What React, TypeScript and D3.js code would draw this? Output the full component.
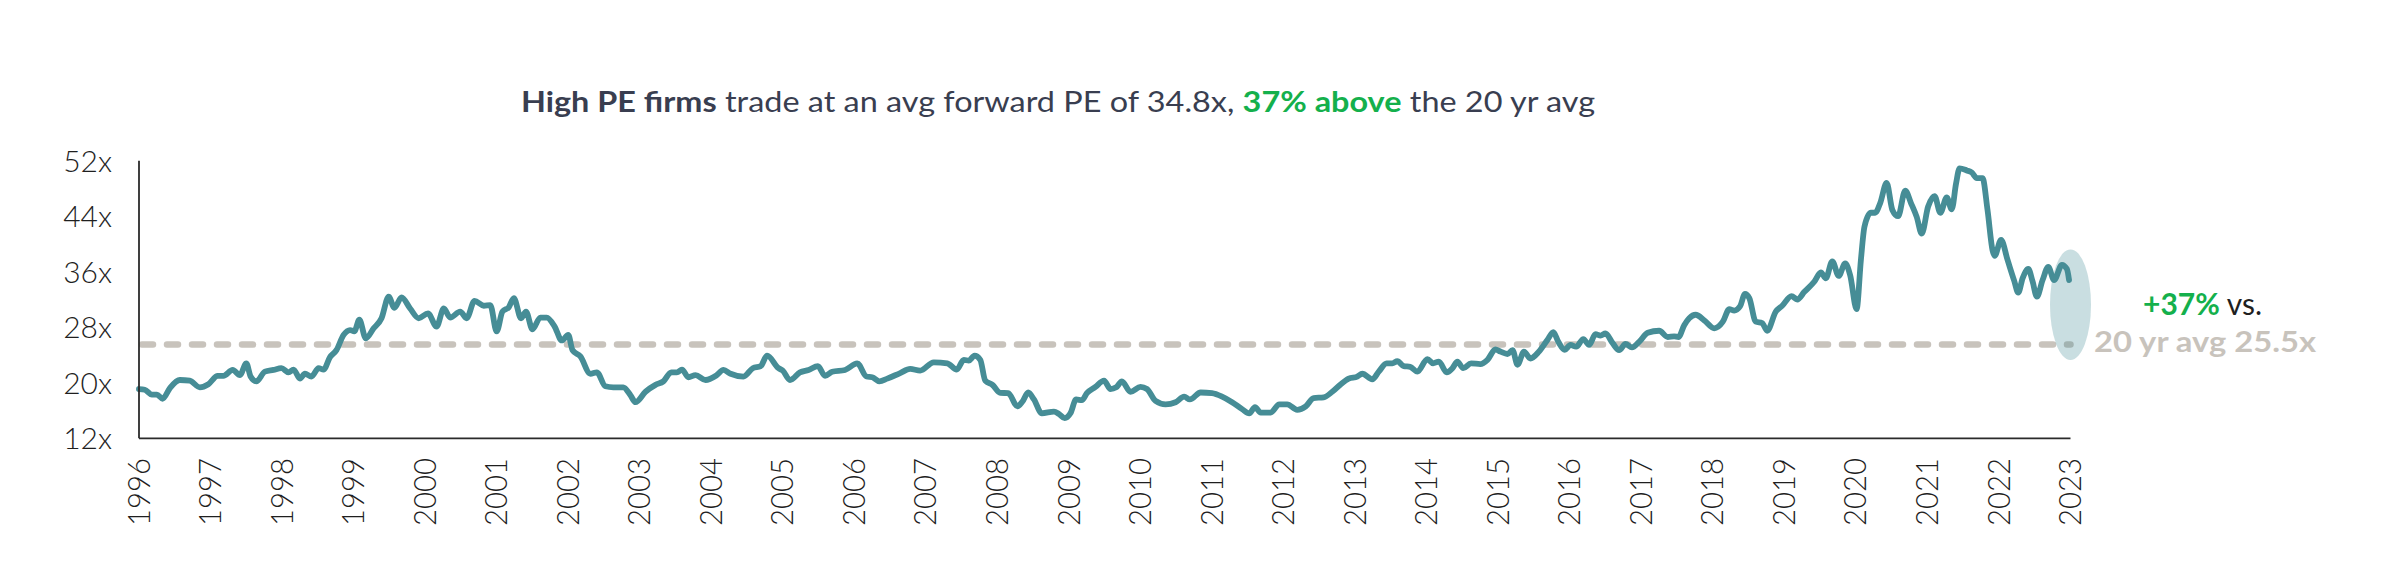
import React from "react";
import * as d3 from "d3";

// decimal-year positions and forward PE values
const years: number[] = [
  1996.0, 1996.08, 1996.18, 1996.25, 1996.33, 1996.43, 1996.57, 1996.71, 1996.85, 1996.97,
  1997.1, 1997.18, 1997.31, 1997.41, 1997.5, 1997.56, 1997.64, 1997.76, 1997.88, 1997.99,
  1998.09, 1998.16, 1998.25, 1998.32, 1998.41, 1998.51, 1998.58, 1998.67, 1998.76, 1998.86,
  1998.95, 1999.01, 1999.08, 1999.17, 1999.28, 1999.39, 1999.49, 1999.57, 1999.67, 1999.79,
  1999.91, 2000.04, 2000.16, 2000.26, 2000.35, 2000.49, 2000.58, 2000.69, 2000.82, 2000.91,
  2001.0, 2001.08, 2001.17, 2001.24, 2001.34, 2001.41, 2001.5, 2001.61, 2001.7, 2001.81,
  2001.91, 2002.0, 2002.06, 2002.17, 2002.31, 2002.4, 2002.52, 2002.63, 2002.77, 2002.87,
  2002.94, 2003.08, 2003.22, 2003.33, 2003.44, 2003.52, 2003.59, 2003.68, 2003.78, 2003.92,
  2004.07, 2004.17, 2004.27, 2004.45, 2004.58, 2004.69, 2004.78, 2004.94, 2005.0, 2005.1,
  2005.24, 2005.36, 2005.49, 2005.59, 2005.69, 2005.87, 2006.04, 2006.17, 2006.25, 2006.35,
  2006.46, 2006.64, 2006.78, 2006.92, 2007.11, 2007.3, 2007.43, 2007.53, 2007.6, 2007.68,
  2007.76, 2007.83, 2007.93, 2008.04, 2008.15, 2008.28, 2008.35, 2008.43, 2008.51, 2008.62,
  2008.79, 2008.86, 2008.94, 2009.02, 2009.1, 2009.18, 2009.25, 2009.37, 2009.49, 2009.58,
  2009.66, 2009.74, 2009.86, 2010.0, 2010.09, 2010.21, 2010.35, 2010.49, 2010.61, 2010.69,
  2010.84, 2011.0, 2011.14, 2011.28, 2011.42, 2011.52, 2011.6, 2011.68, 2011.82, 2011.94,
  2012.05, 2012.19, 2012.31, 2012.42, 2012.56, 2012.68, 2012.8, 2012.91, 2013.03, 2013.1,
  2013.24, 2013.33, 2013.44, 2013.52, 2013.59, 2013.68, 2013.77, 2013.87, 2014.01, 2014.09,
  2014.17, 2014.28, 2014.36, 2014.43, 2014.51, 2014.62, 2014.75, 2014.85, 2014.96, 2015.03,
  2015.13, 2015.2, 2015.27, 2015.36, 2015.45, 2015.57, 2015.69, 2015.77, 2015.84, 2015.93,
  2016.01, 2016.09, 2016.19, 2016.27, 2016.36, 2016.43, 2016.5, 2016.6, 2016.69, 2016.78,
  2016.87, 2016.97, 2017.09, 2017.25, 2017.37, 2017.46, 2017.52, 2017.6, 2017.67, 2017.76,
  2017.88, 2018.02, 2018.14, 2018.23, 2018.3, 2018.38, 2018.45, 2018.51, 2018.6, 2018.69,
  2018.76, 2018.88, 2018.97, 2019.1, 2019.18, 2019.28, 2019.42, 2019.51, 2019.58, 2019.67,
  2019.76, 2019.85, 2019.92, 2020.01, 2020.07, 2020.12, 2020.21, 2020.27, 2020.34, 2020.43,
  2020.51, 2020.59, 2020.69, 2020.77, 2020.85, 2020.92, 2021.01, 2021.1, 2021.18, 2021.27,
  2021.34, 2021.4, 2021.45, 2021.55, 2021.62, 2021.69, 2021.77, 2021.84, 2021.91, 2021.94,
  2022.03, 2022.12, 2022.21, 2022.27, 2022.33, 2022.41, 2022.47, 2022.53, 2022.61, 2022.69,
  2022.77, 2022.88, 2022.95, 2022.98,
];

const forwardPE: number[] = [
  19.1, 19.0, 18.3, 18.3, 17.7, 19.2, 20.4, 20.3, 19.35, 19.8,
  21.0, 21.0, 21.85, 21.1, 22.8, 20.9, 20.2, 21.6, 21.85, 22.1,
  21.5, 21.9, 20.6, 21.3, 20.9, 22.1, 21.9, 23.7, 24.7, 26.9,
  27.6, 27.4, 29.1, 26.4, 27.85, 29.3, 32.4, 30.8, 32.3, 30.7,
  29.3, 30.0, 28.1, 30.7, 29.4, 30.25, 29.3, 31.8, 31.1, 31.2,
  27.4, 30.25, 30.9, 32.2, 29.3, 30.25, 27.7, 29.4, 29.4, 28.1,
  26.1, 26.9, 24.7, 23.8, 21.3, 21.5, 19.5, 19.35, 19.35, 18.2,
  17.2, 18.7, 19.7, 20.2, 21.5, 21.5, 21.9, 20.8, 21.1, 20.4,
  21.05, 21.85, 21.3, 20.9, 22.1, 22.4, 23.9, 22.1, 21.75, 20.4,
  21.5, 21.85, 22.4, 21.0, 21.6, 21.85, 22.8, 20.9, 20.8, 20.2,
  20.6, 21.4, 22.0, 21.75, 22.95, 22.8, 21.9, 23.3, 23.2, 23.9,
  23.3, 20.3, 19.7, 18.55, 18.5, 16.6, 17.3, 18.6, 17.6, 15.6,
  15.85, 15.5, 14.9, 15.6, 17.6, 17.5, 18.5, 19.4, 20.3, 19.1,
  19.35, 20.2, 18.7, 19.4, 19.1, 17.4, 16.9, 17.2, 18.0, 17.6,
  18.6, 18.5, 18.0, 17.2, 16.2, 15.6, 16.5, 15.7, 15.7, 16.9,
  16.9, 16.1, 16.6, 17.8, 17.9, 18.7, 19.8, 20.6, 20.9, 21.3,
  20.5, 21.6, 22.8, 22.8, 23.1, 22.4, 22.3, 21.6, 23.4, 22.8,
  23.05, 21.5, 22.1, 23.05, 22.1, 22.8, 22.7, 23.3, 24.8, 24.5,
  24.15, 24.7, 22.6, 24.5, 23.5, 24.5, 26.2, 27.3, 25.9, 24.75,
  25.45, 25.2, 26.3, 25.45, 27.0, 26.8, 27.1, 25.7, 24.7, 25.6,
  25.1, 25.9, 27.2, 27.5, 26.6, 26.7, 26.6, 28.3, 29.3, 29.8,
  29.0, 27.85, 28.8, 30.6, 30.4, 31.0, 32.8, 32.2, 28.8, 28.6,
  27.5, 30.25, 31.1, 32.5, 32.0, 33.1, 34.6, 35.9, 35.05, 37.5,
  35.4, 37.2, 35.5, 30.6, 37.7, 42.5, 44.5, 44.5, 45.9, 48.8,
  44.9, 44.0, 47.7, 45.9, 43.9, 41.5, 45.4, 46.9, 44.5, 46.7,
  45.0, 48.7, 50.9, 50.6, 50.3, 49.5, 49.5, 44.9, 39.1, 38.3,
  40.6, 37.7, 34.8, 33.0, 35.05, 36.4, 34.6, 32.4, 34.8, 36.7,
  34.8, 37.0, 36.4, 34.8,
];

const yTicks: number[] = [12, 20, 28, 36, 44, 52];
const yTickLabels: string[] = ["12x", "20x", "28x", "36x", "44x", "52x"];
const xTicks: number[] = d3.range(1996, 2024);
const twentyYearAvg = 25.5;
const highlightCenter = 31.25;

const W = 2390;
const H = 586;
const TEAL = "#468d96";
const GREEN = "#14b04c";
const NAVY = "#393e50";
const GRAY = "#c8c3bc";
const FONT = "Lato, 'Open Sans', sans-serif";

export default function App() {
  const x = d3.scaleLinear().domain([1996, 2023]).range([139, 2070.5]);
  const y = d3.scaleLinear().domain([12, 52]).range([438.3, 160.7]);

  const pts: [number, number][] = years.map((yr, i) => [yr, forwardPE[i]]);
  const line = d3
    .line<[number, number]>()
    .x((d) => x(d[0]))
    .y((d) => y(d[1]))
    .curve(d3.curveMonotoneX);

  const x0 = x(1996);
  const x1 = x(2023);
  const yAvg = y(twentyYearAvg);

  return (
    <svg
      width={W}
      height={H}
      viewBox={`0 0 ${W} ${H}`}
      style={{ position: "absolute", left: 0, top: 0, display: "block", background: "#fff" }}
      fontFamily={FONT}
    >
      {/* title */}
      <text x={521} y={112} fontSize={28} fill={NAVY} textLength={1074} lengthAdjust="spacingAndGlyphs">
        <tspan fontWeight={700}>High PE firms</tspan>
        <tspan> trade at an avg forward PE of 34.8x, </tspan>
        <tspan fill={GREEN} fontWeight={700}>37% above</tspan>
        <tspan> the 20 yr avg</tspan>
      </text>

      {/* y tick labels */}
      {yTicks.map((t, i) => (
        <text
          key={t}
          x={112}
          y={y(t)}
          dy="0.36em"
          textAnchor="end"
          fontSize={30}
          fontWeight={300}
          fill="#1f1f1f"
        >
          {yTickLabels[i]}
        </text>
      ))}

      {/* x tick labels */}
      {xTicks.map((t) => (
        <text
          key={t}
          transform={`translate(${x(t)},458) rotate(-90)`}
          dy="0.33em"
          textAnchor="end"
          fontSize={32}
          fontWeight={300}
          fill="#1f1f1f"
          textLength={68}
          lengthAdjust="spacingAndGlyphs"
        >
          {t}
        </text>
      ))}

      {/* average dashed line */}
      <line
        x1={x0 + 3}
        x2={x1}
        y1={yAvg}
        y2={yAvg}
        stroke={GRAY}
        strokeWidth={6.5}
        strokeDasharray="11 14"
        strokeLinecap="round"
      />

      {/* highlight ellipse */}
      <ellipse cx={x1} cy={y(highlightCenter)} rx={20.5} ry={55.3} fill={TEAL} fillOpacity={0.29} />

      {/* series line */}
      <path d={line(pts) || ""} fill="none" stroke={TEAL} strokeWidth={5.8} strokeLinejoin="round" strokeLinecap="round" />

      {/* axes */}
      <line x1={x0} x2={x0} y1={y(52)} y2={y(12)} stroke="#2b2b2b" strokeWidth={1.8} />
      <line x1={x0} x2={x1} y1={y(12)} y2={y(12)} stroke="#2b2b2b" strokeWidth={1.8} />

      {/* annotation */}
      <text x={2143} y={315} fontSize={30}>
        <tspan fill={GREEN} fontWeight={700}>+37%</tspan>
        <tspan fill="#1f1f1f" fontWeight={400}> vs.</tspan>
      </text>
      <text x={2094} y={352} fontSize={28} fontWeight={700} fill={GRAY} textLength={222} lengthAdjust="spacingAndGlyphs">
        20 yr avg 25.5x
      </text>
    </svg>
  );
}
